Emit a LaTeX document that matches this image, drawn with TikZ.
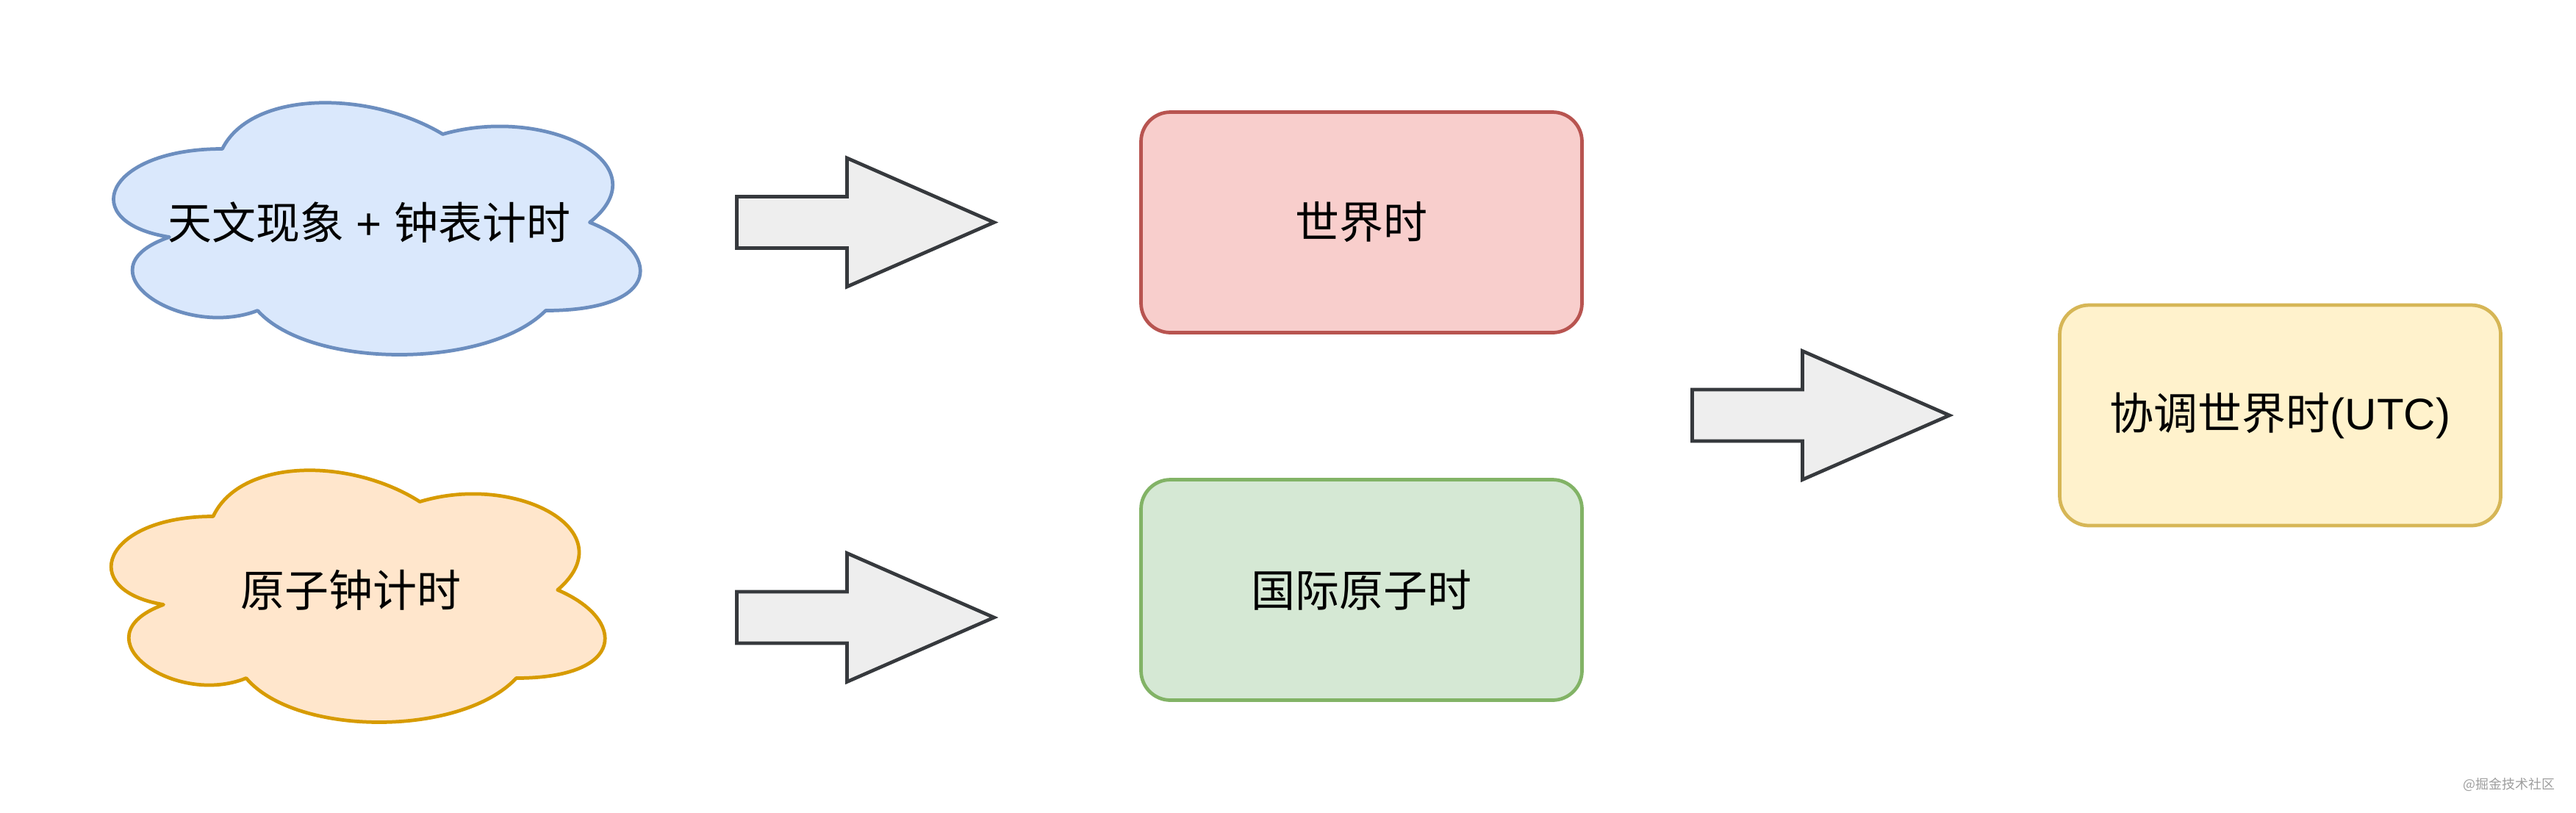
\documentclass[tikz,border=0pt]{standalone}
\usepackage{fontspec}
\setmainfont{Liberation Sans}
\newfontfamily\cjk{Noto Sans CJK SC}
\definecolor{blueF}{HTML}{DAE8FC}\definecolor{blueS}{HTML}{6C8EBF}
\definecolor{orF}{HTML}{FFE6CC}\definecolor{orS}{HTML}{D79B00}
\definecolor{redF}{HTML}{F8CECC}\definecolor{redS}{HTML}{B85450}
\definecolor{grF}{HTML}{D5E8D4}\definecolor{grS}{HTML}{82B366}
\definecolor{yeF}{HTML}{FFF2CC}\definecolor{yeS}{HTML}{D6B656}
\definecolor{arF}{HTML}{EEEEEE}\definecolor{arS}{HTML}{36393D}
\definecolor{wmark}{HTML}{9E9E9E}
\tikzset{
  stroke/.style={line width=1.35pt, line join=miter},
  rbox/.style={stroke, rectangle, rounded corners=0.4cm, minimum width=6cm, minimum height=3cm, inner sep=0pt, align=center, font=\fontsize{17.07pt}{20pt}\selectfont},
  lbl/.style={inner sep=0pt, align=center, font=\fontsize{17.07pt}{20pt}\selectfont},
  barrow/.style={stroke, fill=arF, draw=arS},
  cloudshape/.style={stroke, line join=round}
}
\begin{document}
\begin{tikzpicture}[x=0.05cm,y=-0.05cm]
\useasboundingbox (0,0) rectangle (701,221);
\fill[white] (0,0) rectangle (701,221);
\begin{scope}[shift={(0.5,0.5)}]
% cloud 1
\begin{scope}[shift={(20,20)}, x=8cm, y=-4cm]
\draw[cloudshape, fill=blueF, draw=blueS] (0.25,0.25) .. controls (0.05,0.25) and (0,0.5) .. (0.16,0.55)
  .. controls (0,0.66) and (0.18,0.9) .. (0.31,0.8)
  .. controls (0.4,1) and (0.7,1) .. (0.8,0.8)
  .. controls (1,0.8) and (1,0.6) .. (0.875,0.5)
  .. controls (1,0.3) and (0.8,0.1) .. (0.625,0.2)
  .. controls (0.5,0.05) and (0.3,0.05) .. (0.25,0.25) -- cycle;
\end{scope}
\node[lbl] (astro) at (100,60) {{\cjk 天文现象} + {\cjk 钟表计时}};
% cloud 2
\begin{scope}[shift={(20,120)}, x=7.5cm, y=-4cm]
\draw[cloudshape, fill=orF, draw=orS] (0.25,0.25) .. controls (0.05,0.25) and (0,0.5) .. (0.16,0.55)
  .. controls (0,0.66) and (0.18,0.9) .. (0.31,0.8)
  .. controls (0.4,1) and (0.7,1) .. (0.8,0.8)
  .. controls (1,0.8) and (1,0.6) .. (0.875,0.5)
  .. controls (1,0.3) and (0.8,0.1) .. (0.625,0.2)
  .. controls (0.5,0.05) and (0.3,0.05) .. (0.25,0.25) -- cycle;
\end{scope}
\node[lbl] (atom) at (95,160) {\cjk 原子钟计时};
% boxes
\node[rbox, fill=redF, draw=redS] (ut) at (370,60) {\cjk 世界时};
\node[rbox, fill=grF, draw=grS] (tai) at (370,160) {\cjk 国际原子时};
\node[rbox, fill=yeF, draw=yeS] (utc) at (620,112.5) {{\cjk 协调世界时}(UTC)};
% block arrows
\draw[barrow] (200,53) -- (230,53) -- (230,42.5) -- (270,60) -- (230,77.5) -- (230,67) -- (200,67) -- cycle;
\draw[barrow] (200,160.5) -- (230,160.5) -- (230,150) -- (270,167.5) -- (230,185) -- (230,174.5) -- (200,174.5) -- cycle;
\draw[barrow] (460,105.5) -- (490,105.5) -- (490,95) -- (530,112.5) -- (490,130) -- (490,119.5) -- (460,119.5) -- cycle;
\end{scope}
% watermark
\node[inner sep=0pt, text=wmark, font=\fontsize{5.1pt}{6pt}\selectfont\cjk] (wm) at (682.8,213.4) {@掘金技术社区};
\end{tikzpicture}
\end{document}
